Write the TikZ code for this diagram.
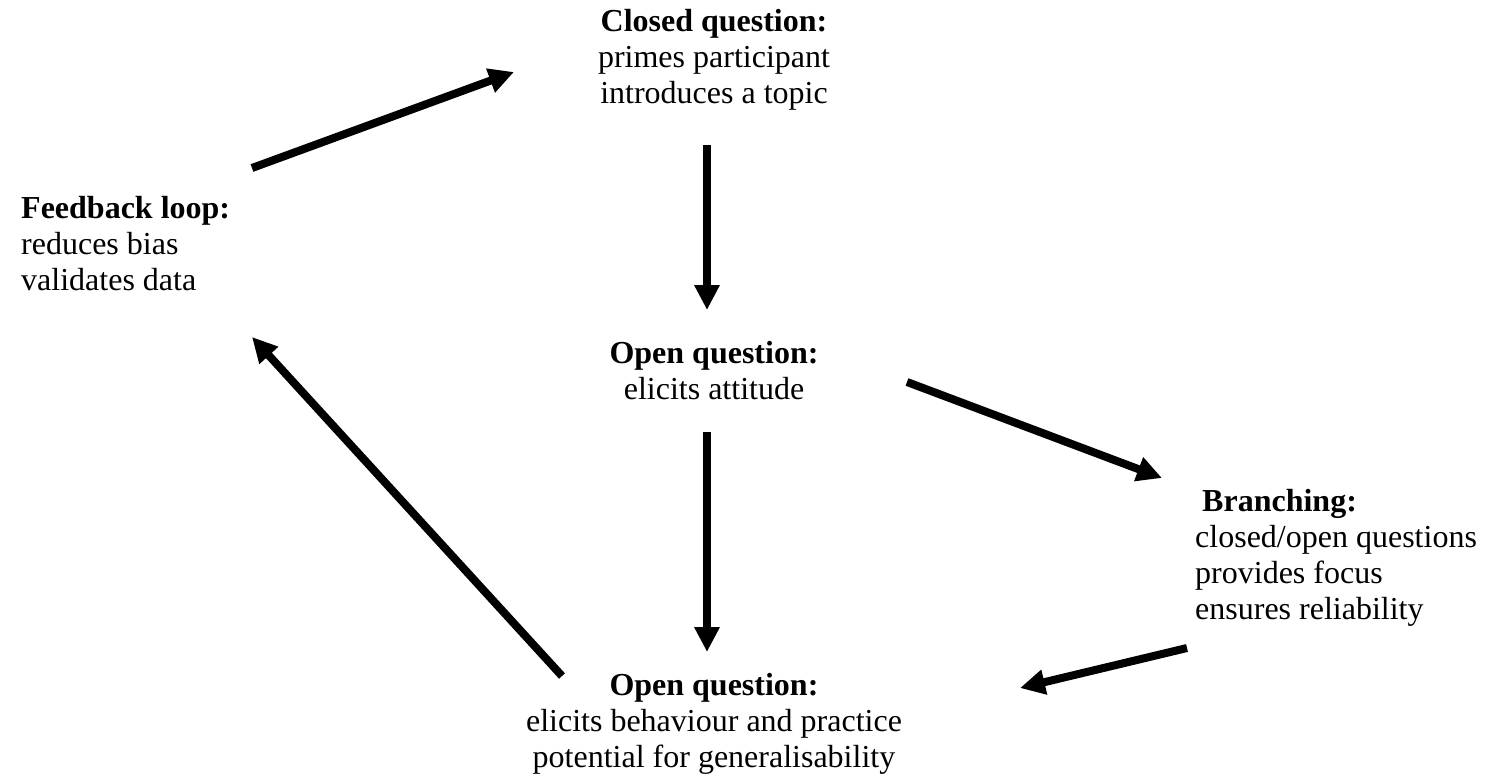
\documentclass[tikz,border=0pt]{standalone}
\usepackage{fontspec}
\setmainfont{Liberation Serif}
\usetikzlibrary{arrows.meta}
\begin{document}
\begin{tikzpicture}[x=1pt,y=-1pt,
  label text/.style={inner sep=0pt, font=\fontsize{32}{36}\selectfont},
  flow/.style={line width=8pt, -{Triangle[length=25pt,width=24pt]}}]
  \useasboundingbox (0,0) rectangle (1490,778);

  % text blocks, each placed by the baseline of its last line
  \node[label text, align=center, anchor=base] (closed) at (714,104)
    {\textbf{Closed question:}\\primes participant\\introduces a topic};
  \node[label text, align=left, anchor=base west] (feedback) at (21,290)
    {\textbf{Feedback loop:}\\reduces bias\\validates data};
  \node[label text, align=center, anchor=base] (openA) at (714,399)
    {\textbf{Open question:}\\elicits attitude};
  \node[label text, align=left, anchor=base west] (branch) at (1195,619)
    {\hspace*{7pt}\textbf{Branching:}\\closed/open questions\\provides focus\\ensures reliability};
  \node[label text, align=center, anchor=base] (openB) at (714,767)
    {\textbf{Open question:}\\elicits behaviour and practice\\potential for generalisability};

  % arrow end points
  \coordinate (fb-out)   at (252,168);
  \coordinate (cl-in)    at (514,72);
  \coordinate (cl-out)   at (707,145);
  \coordinate (oa-in)    at (707,310);
  \coordinate (oa-out)   at (707,432);
  \coordinate (oa-right) at (907,382);
  \coordinate (br-in)    at (1162,478);
  \coordinate (br-out)   at (1187,648);
  \coordinate (ob-right) at (1020,688);
  \coordinate (ob-in)    at (707,652);
  \coordinate (ob-out)   at (562,676);
  \coordinate (fb-in)    at (252,337);

  % connectors
  \draw[flow] (fb-out) -- (cl-in);
  \draw[flow] (cl-out) -- (oa-in);
  \draw[flow] (oa-right) -- (br-in);
  \draw[flow] (oa-out) -- (ob-in);
  \draw[flow] (br-out) -- (ob-right);
  \draw[flow] (ob-out) -- (fb-in);
\end{tikzpicture}
\end{document}
